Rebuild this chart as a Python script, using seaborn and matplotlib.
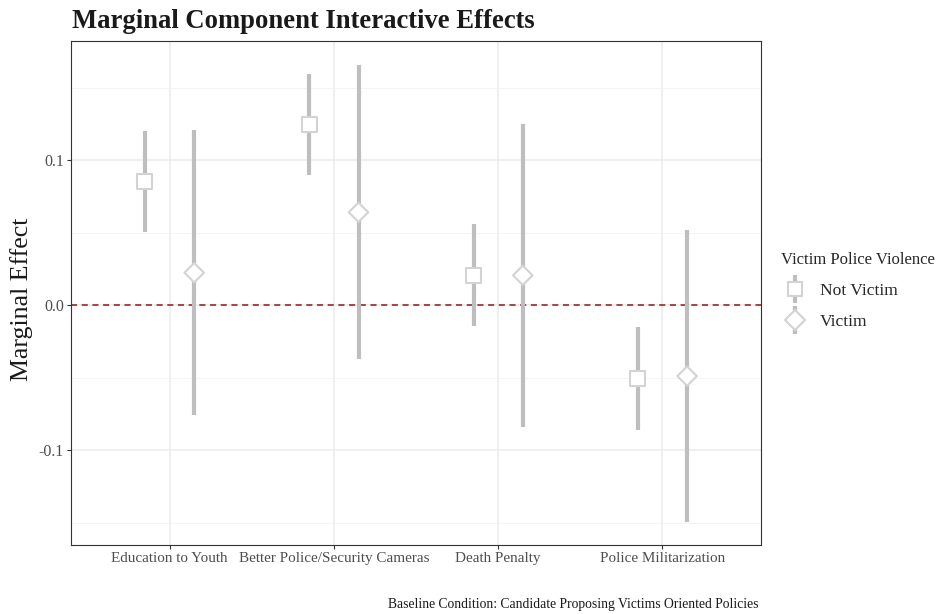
import numpy as np
import pandas as pd
import matplotlib
matplotlib.use("Agg")
import matplotlib.pyplot as plt
from matplotlib.lines import Line2D
from matplotlib.legend_handler import HandlerTuple
from matplotlib.ticker import MultipleLocator
import seaborn as sns

# Conjoint AMCE estimates by victimization status
policies = ["Education to Youth", "Better Police/Security Cameras",
            "Death Penalty", "Police Militarization"]
groups = ["Not Victim", "Victim"]

est_not_victim = [0.085, 0.1245, 0.0205, -0.0505]
lo_not_victim = [0.0505, 0.0895, -0.0145, -0.0865]
hi_not_victim = [0.1200, 0.1590, 0.0560, -0.0150]

est_victim = [0.0223, 0.0640, 0.0205, -0.0490]
lo_victim = [-0.0760, -0.0372, -0.0840, -0.1495]
hi_victim = [0.1207, 0.1655, 0.1248, 0.0517]

df = pd.DataFrame({
    "policy": policies * 2,
    "group": [groups[0]] * 4 + [groups[1]] * 4,
    "est": est_not_victim + est_victim,
    "lo": lo_not_victim + lo_victim,
    "hi": hi_not_victim + hi_victim,
})
dodge = {"Not Victim": -0.15, "Victim": 0.15}
df["xpos"] = df["policy"].map({p: i for i, p in enumerate(policies)}) + df["group"].map(dodge)

sns.set_theme(style="whitegrid")
serif = ["Liberation Serif", "DejaVu Serif"]
plt.rcParams["font.family"] = serif

ci_color = "#BEBEBE"
pt_edge = "#D3D3D3"

fig = plt.figure(figsize=(9.43, 6.14), dpi=100)
ax = fig.add_axes([71 / 943, 1 - 545 / 614, (761 - 71) / 943, (545 - 41) / 614])

ax.axhline(0, color="#8B1A1A", lw=1.1, ls=(0, (4, 3)), zorder=2)
ax.vlines(df["xpos"], df["lo"], df["hi"], color=ci_color, lw=3.0, zorder=3)
sns.scatterplot(data=df, x="xpos", y="est", style="group", size="group",
                markers={"Not Victim": "s", "Victim": "D"},
                sizes={"Not Victim": 118, "Victim": 98},
                color="white", edgecolor=pt_edge,
                linewidth=1.5, zorder=4, legend=False, ax=ax)

ax.set_xlim(-0.6, 3.6)
ax.set_ylim(-0.1655, 0.1821)
ax.set_xticks(range(len(policies)))
ax.set_xticklabels(policies)
ax.yaxis.set_minor_locator(MultipleLocator(0.05))
ax.set_yticks([-0.1, 0.0, 0.1])
ax.set_yticklabels(["-0.1", "0.0", "0.1"])

ax.grid(True, which="major", color="#EBEBEB", lw=1.1)
ax.grid(True, which="minor", axis="y", color="#F2F2F2", lw=0.6)
ax.set_axisbelow(True)
for sp in ax.spines.values():
    sp.set_color("#333333")
    sp.set_linewidth(0.8)
ax.tick_params(axis="both", which="major", length=3, width=0.8, color="#333333",
               labelcolor="#4D4D4D", pad=2, bottom=True, left=True)
ax.tick_params(axis="x", which="major", labelsize=10.9)
ax.tick_params(axis="y", which="major", labelsize=11.5)
ax.tick_params(axis="both", which="minor", length=0)
ax.set_xlabel("")
ax.set_ylabel("")

fig.text(72 / 943, 1 - 28 / 614, "Marginal Component Interactive Effects",
         fontsize=19.2, fontweight="bold", color="#1A1A1A", ha="left", va="baseline")
fig.text(22 / 943, 1 - 299 / 614, "Marginal Effect", fontsize=18.6,
         rotation=90, ha="center", va="center", color="#1A1A1A")
fig.text(758 / 943, 1 - 608 / 614,
         "Baseline Condition: Candidate Proposing Victims Oriented Policies",
         fontsize=9.85, ha="right", va="baseline", color="#1A1A1A")

def key(marker):
    bar = Line2D([], [], marker="|", markersize=20, mew=3, color=ci_color, ls="")
    pt = Line2D([], [], marker=marker, markersize=10 if marker == "s" else 10.5,
                mfc="white", mec=pt_edge, mew=1.5, ls="")
    return (bar, pt)

leg = fig.legend([key("s"), key("D")], groups,
                 handler_map={tuple: HandlerTuple(ndivide=1, pad=0)},
                 title="Victim Police Violence", loc="upper left",
                 bbox_to_anchor=(769 / 943, 1 - 240 / 614), frameon=False,
                 fontsize=12.6, title_fontsize=12.0, handlelength=1.6,
                 labelspacing=0.85, handletextpad=0.6, borderpad=0.2)
leg._legend_box.align = "left"

fig.savefig("out.png", dpi=100)
